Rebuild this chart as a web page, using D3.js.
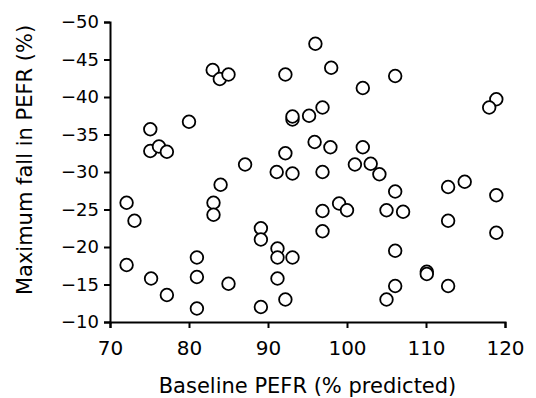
<!DOCTYPE html>
<html>
<head>
<meta charset="utf-8">
<script src="https://cdn.jsdelivr.net/npm/d3@7"></script>
<style>
  body { margin: 0; background: #fff; }
  text { font-family: "DejaVu Sans", sans-serif; fill: #000; }
</style>
</head>
<body>
<div id="chart"></div>
<script>
const width = 536, height = 398;

// baseline PEFR (% predicted) for each subject
const baseline = [
  72.1, 73.1, 72.1, 75.2, 77.2, 75.1, 75.1, 76.2, 77.2, 80.0,
  83.0, 83.9, 85.0, 87.1, 84.0, 83.1, 83.1, 81.0, 81.0, 81.0,
  85.0, 89.1, 89.1, 89.1, 91.2, 91.2, 93.1, 91.2, 92.2, 91.1,
  93.1, 92.2, 93.1, 93.1, 95.2, 92.2, 96.0, 98.0, 96.9, 95.9,
  97.9, 102.0, 102.0, 96.9, 101.0, 103.0, 104.1, 99.0, 100.0, 96.9,
  96.9, 106.1, 112.8, 114.9, 118.9, 105.0, 107.1, 112.8, 118.9, 106.1,
  110.1, 110.1, 106.1, 112.8, 105.0, 106.1, 118.9, 118.0
];
// maximum fall in PEFR (%)
const maxFall = [
  -25.9, -23.5, -17.6, -15.8, -13.6, -35.7, -32.8, -33.4, -32.7, -36.7,
  -43.6, -42.4, -43.0, -31.0, -28.3, -25.9, -24.3, -18.6, -16.0, -11.8,
  -15.1, -12.0, -22.5, -21.0, -19.8, -18.6, -18.6, -15.8, -13.0, -30.0,
  -29.8, -32.5, -37.0, -37.4, -37.5, -43.0, -47.1, -43.9, -38.6, -34.0,
  -33.3, -41.2, -33.3, -30.0, -31.0, -31.1, -29.7, -25.8, -24.9, -24.8,
  -22.1, -27.4, -28.0, -28.7, -26.9, -24.9, -24.7, -23.5, -21.9, -19.5,
  -16.7, -16.4, -14.8, -14.8, -13.0, -42.8, -39.7, -38.6
];
const xTicks = [70, 80, 90, 100, 110, 120];
const yTicks = [-50, -45, -40, -35, -30, -25, -20, -15, -10];

const points = baseline.map((b, i) => ({ x: b, y: maxFall[i] }));

const svg = d3.select("#chart").append("svg")
    .attr("width", width)
    .attr("height", height);

const x = d3.scaleLinear().domain([70, 120]).range([110, 505]);
const y = d3.scaleLinear().domain([-10, -50]).range([322, 22]);

// x axis
const gx = svg.append("g")
    .attr("transform", "translate(0," + y(-10) + ")")
    .call(d3.axisBottom(x).tickValues(xTicks).tickSizeOuter(0).tickSize(6).tickPadding(13));
// y axis
const gy = svg.append("g")
    .attr("transform", "translate(" + x(70) + ",0)")
    .call(d3.axisLeft(y).tickValues(yTicks).tickSizeOuter(0).tickSize(6).tickPadding(5));

[gx, gy].forEach(g => {
  g.select(".domain").attr("stroke", "#000").attr("stroke-width", 2);
  g.selectAll(".tick line").attr("stroke", "#000").attr("stroke-width", 2);
  g.selectAll(".tick text")
    .style("font-family", "'DejaVu Sans', sans-serif")
    .style("font-size", "18px")
    .attr("fill", "#000");
});
gx.selectAll(".tick text").style("font-size", "20px");

// points
svg.append("g").selectAll("circle")
    .data(points)
    .enter().append("circle")
    .attr("cx", d => x(d.x))
    .attr("cy", d => y(d.y))
    .attr("r", 6.3)
    .style("fill", "#fff")
    .style("stroke", "#000")
    .style("stroke-width", 1.8);

// axis titles
svg.append("text")
    .attr("x", (x(70) + x(120)) / 2)
    .attr("y", 393)
    .attr("text-anchor", "middle")
    .style("font-size", "21px")
    .text("Baseline PEFR (% predicted)");

svg.append("text")
    .attr("transform", "translate(32,160)rotate(-90)")
    .attr("text-anchor", "middle")
    .style("font-size", "21px")
    .text("Maximum fall in PEFR (%)");
</script>
</body>
</html>
